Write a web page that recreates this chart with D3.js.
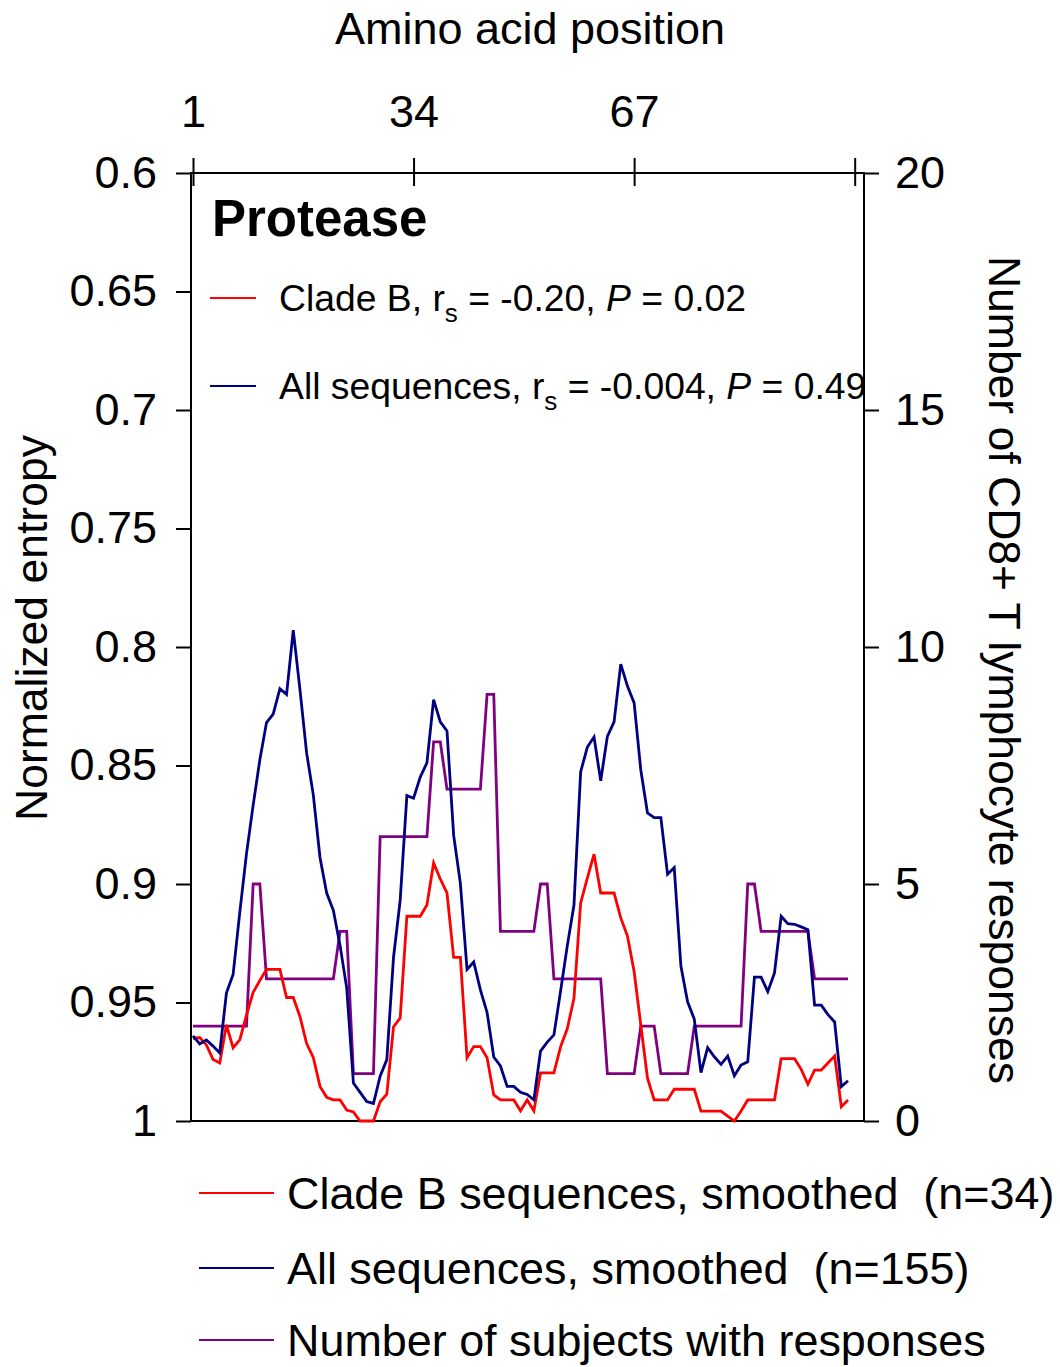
<!DOCTYPE html>
<html>
<head>
<meta charset="utf-8">
<script src="https://cdn.jsdelivr.net/npm/d3@7/dist/d3.min.js"></script>
<style>
  body { margin: 0; background: #fff; }
  text { font-family: "Liberation Sans", Arial, sans-serif; fill: #000; }
</style>
</head>
<body>
<script>
'use strict';

// amino acid positions of protease
const positions = d3.range(1, 100);
const positionTicks = [1, 34, 67, 100];
const entropyTicks = [0.6, 0.65, 0.7, 0.75, 0.8, 0.85, 0.9, 0.95, 1];
const responseTicks = [0, 5, 10, 15, 20];

// normalized entropy, clade B sequences, smoothed (n=34)
const cladeB = [
  0.9651, 0.9648, 0.9679, 0.9740, 0.9755, 0.9595, 0.9691, 0.9658, 0.9553, 0.9457,
  0.9407, 0.9360, 0.9360, 0.9360, 0.9479, 0.9479, 0.9559, 0.9673, 0.9732, 0.9854,
  0.9900, 0.9911, 0.9911, 0.9954, 0.9962, 1.0000, 1.0000, 1.0000, 0.9919, 0.9887,
  0.9603, 0.9565, 0.9136, 0.9136, 0.9136, 0.9089, 0.8911, 0.8979, 0.9038, 0.9310,
  0.9310, 0.9733, 0.9686, 0.9686, 0.9733, 0.9890, 0.9911, 0.9911, 0.9911, 0.9957,
  0.9911, 0.9957, 0.9797, 0.9797, 0.9797, 0.9686, 0.9611, 0.9482, 0.9080, 0.8975,
  0.8874, 0.9038, 0.9038, 0.9038, 0.9143, 0.9219, 0.9369, 0.9595, 0.9819, 0.9911,
  0.9911, 0.9911, 0.9866, 0.9866, 0.9866, 0.9866, 0.9958, 0.9958, 0.9958, 0.9958,
  0.9979, 1.0000, 0.9958, 0.9911, 0.9911, 0.9911, 0.9911, 0.9911, 0.9737, 0.9737,
  0.9737, 0.9782, 0.9845, 0.9785, 0.9785, 0.9755, 0.9726, 0.9940, 0.9911
];

// normalized entropy, all sequences, smoothed (n=155)
const allSequences = [
  0.9641, 0.9675, 0.9658, 0.9684, 0.9713, 0.9460, 0.9382, 0.9120, 0.8873, 0.8667,
  0.8476, 0.8319, 0.8283, 0.8176, 0.8200, 0.7929, 0.8179, 0.8447, 0.8624, 0.8888,
  0.9038, 0.9111, 0.9259, 0.9439, 0.9840, 0.9879, 0.9918, 0.9926, 0.9811, 0.9741,
  0.9310, 0.9068, 0.8627, 0.8638, 0.8549, 0.8489, 0.8222, 0.8316, 0.8354, 0.8795,
  0.8996, 0.9360, 0.9329, 0.9447, 0.9542, 0.9730, 0.9768, 0.9854, 0.9854, 0.9879,
  0.9888, 0.9911, 0.9705, 0.9667, 0.9637, 0.9451, 0.9261, 0.9089, 0.8527, 0.8422,
  0.8380, 0.8565, 0.8377, 0.8316, 0.8072, 0.8165, 0.8236, 0.8519, 0.8700, 0.8720,
  0.8720, 0.8959, 0.8931, 0.9346, 0.9497, 0.9570, 0.9796, 0.9691, 0.9729, 0.9761,
  0.9726, 0.9809, 0.9764, 0.9750, 0.9393, 0.9393, 0.9454, 0.9375, 0.9136, 0.9167,
  0.9170, 0.9181, 0.9193, 0.9511, 0.9511, 0.9551, 0.9582, 0.9855, 0.9830
];

// number of subjects with CD8+ T lymphocyte responses
const responses = [
  2, 2, 2, 2, 2, 2, 2, 2, 2, 5,
  5, 3, 3, 3, 3, 3, 3, 3, 3, 3,
  3, 3, 4, 4, 1, 1, 1, 1, 6, 6,
  6, 6, 6, 6, 6, 6, 8, 8, 7, 7,
  7, 7, 7, 7, 9, 9, 4, 4, 4, 4,
  4, 4, 5, 5, 3, 3, 3, 3, 3, 3,
  3, 3, 1, 1, 1, 1, 1, 2, 2, 2,
  1, 1, 1, 1, 1, 2, 2, 2, 2, 2,
  2, 2, 2, 5, 5, 4, 4, 4, 4, 4,
  4, 4, 4, 3, 3, 3, 3, 3, 3
];

const legendNames = [
  "Clade B sequences, smoothed  (n=34)",
  "All sequences, smoothed  (n=155)",
  "Number of subjects with responses"
];
const legendColors = ["#ff0000", "#000080", "#800080"];

(function() {

  let svgContainer = ""; // keep SVG reference in global scope

  // plot area box
  const box = { left: 191, right: 864, top: 173, bottom: 1121 };

  window.onload = function() {
    svgContainer = d3.select('body')
      .append('svg')
      .attr('width', 1060)
      .attr('height', 1367);

    let scales = drawAxes();
    plotData(scales);
    makeLabels();
  }

  // draw the frame, the top, left and right axes
  function drawAxes() {
    let xScale = d3.scaleLinear()
      .domain([1, 99])
      .range([193, 848]);

    let yLeft = d3.scaleLinear()
      .domain([0.6, 1])
      .range([box.top, box.bottom]);

    let yRight = d3.scaleLinear()
      .domain([0, 20])
      .range([box.bottom, box.top]);

    // top axis, ticks cross the line
    let topAxis = svgContainer.append('g')
      .attr('transform', 'translate(0,' + box.top + ')')
      .call(d3.axisTop(xScale)
        .tickValues(positionTicks)
        .tickSize(15)
        .tickPadding(31)
        .tickFormat(d => d === 100 ? '' : d));
    topAxis.selectAll('.tick line').attr('y1', 13);

    let leftAxis = svgContainer.append('g')
      .attr('transform', 'translate(' + box.left + ',0)')
      .call(d3.axisLeft(yLeft)
        .tickValues(entropyTicks)
        .tickSize(15)
        .tickPadding(19)
        .tickFormat(d3.format('~g')));

    let rightAxis = svgContainer.append('g')
      .attr('transform', 'translate(' + box.right + ',0)')
      .call(d3.axisRight(yRight)
        .tickValues(responseTicks)
        .tickSize(15)
        .tickPadding(16));

    [topAxis, leftAxis, rightAxis].forEach(g => {
      g.select('.domain').remove();
      g.attr('font-size', 45)
        .attr('font-family', '"Liberation Sans", Arial, sans-serif');
      g.selectAll('line').attr('stroke', '#000').attr('stroke-width', 2);
    });

    svgContainer.append('rect')
      .attr('x', box.left)
      .attr('y', box.top)
      .attr('width', box.right - box.left)
      .attr('height', box.bottom - box.top)
      .attr('fill', 'none')
      .attr('stroke', '#000')
      .attr('stroke-width', 2);

    return { x: xScale, yLeft: yLeft, yRight: yRight };
  }

  // draw the three lines
  function plotData(map) {
    let entropyLine = d3.line()
      .x((d, i) => map.x(positions[i]))
      .y(d => map.yLeft(d));

    let responseLine = d3.line()
      .x((d, i) => map.x(positions[i]))
      .y(d => map.yRight(d));

    svgContainer.append('path')
      .datum(responses)
      .attr('d', responseLine)
      .attr('fill', 'none')
      .attr('stroke', legendColors[2])
      .attr('stroke-width', 2.8);

    svgContainer.append('path')
      .datum(cladeB)
      .attr('d', entropyLine)
      .attr('fill', 'none')
      .attr('stroke', legendColors[0])
      .attr('stroke-width', 2.8);

    svgContainer.append('path')
      .datum(allSequences)
      .attr('d', entropyLine)
      .attr('fill', 'none')
      .attr('stroke', legendColors[1])
      .attr('stroke-width', 2.8);
  }

  // titles, panel name and legends
  function makeLabels() {
    svgContainer.append('text')
      .attr('x', 530)
      .attr('y', 44)
      .attr('text-anchor', 'middle')
      .style('font-size', '45px')
      .text('Amino acid position');

    svgContainer.append('text')
      .attr('transform', 'translate(47,628)rotate(-90)')
      .attr('text-anchor', 'middle')
      .style('font-size', '44.5px')
      .text('Normalized entropy');

    svgContainer.append('text')
      .attr('transform', 'translate(989,670)rotate(90)')
      .attr('text-anchor', 'middle')
      .style('font-size', '44.5px')
      .text('Number of CD8+ T lymphocyte responses');

    svgContainer.append('text')
      .attr('x', 212)
      .attr('y', 236)
      .style('font-size', '51px')
      .style('font-weight', 'bold')
      .text('Protease');

    // correlation key inside the plot
    let stats = [
      { y: 298, color: legendColors[0], name: 'Clade B, r', rs: ' = -0.20, ', p: ' = 0.02' },
      { y: 386, color: legendColors[1], name: 'All sequences, r', rs: ' = -0.004, ', p: ' = 0.49' }
    ];
    stats.forEach(s => {
      svgContainer.append('line')
        .attr('x1', 210)
        .attr('x2', 256)
        .attr('y1', s.y)
        .attr('y2', s.y)
        .attr('stroke', s.color)
        .attr('stroke-width', 2);

      let t = svgContainer.append('text')
        .attr('x', 279)
        .attr('y', s.y + 13)
        .style('font-size', '37.3px')
        .style('white-space', 'pre');
      t.append('tspan').text(s.name);
      t.append('tspan').attr('dy', 11).style('font-size', '26px').text('s');
      t.append('tspan').attr('dy', -11).text(s.rs);
      t.append('tspan').style('font-style', 'italic').text('P');
      t.append('tspan').text(s.p);
    });

    // series key below the plot
    let rows = [1193, 1268, 1340];
    legendNames.forEach((name, i) => {
      svgContainer.append('line')
        .attr('x1', 199)
        .attr('x2', 274)
        .attr('y1', rows[i])
        .attr('y2', rows[i])
        .attr('stroke', legendColors[i])
        .attr('stroke-width', 2);

      svgContainer.append('text')
        .attr('x', 287)
        .attr('y', rows[i] + 16)
        .style('font-size', '44.9px')
        .style('white-space', 'pre')
        .text(name);
    });
  }

})();
</script>
</body>
</html>
